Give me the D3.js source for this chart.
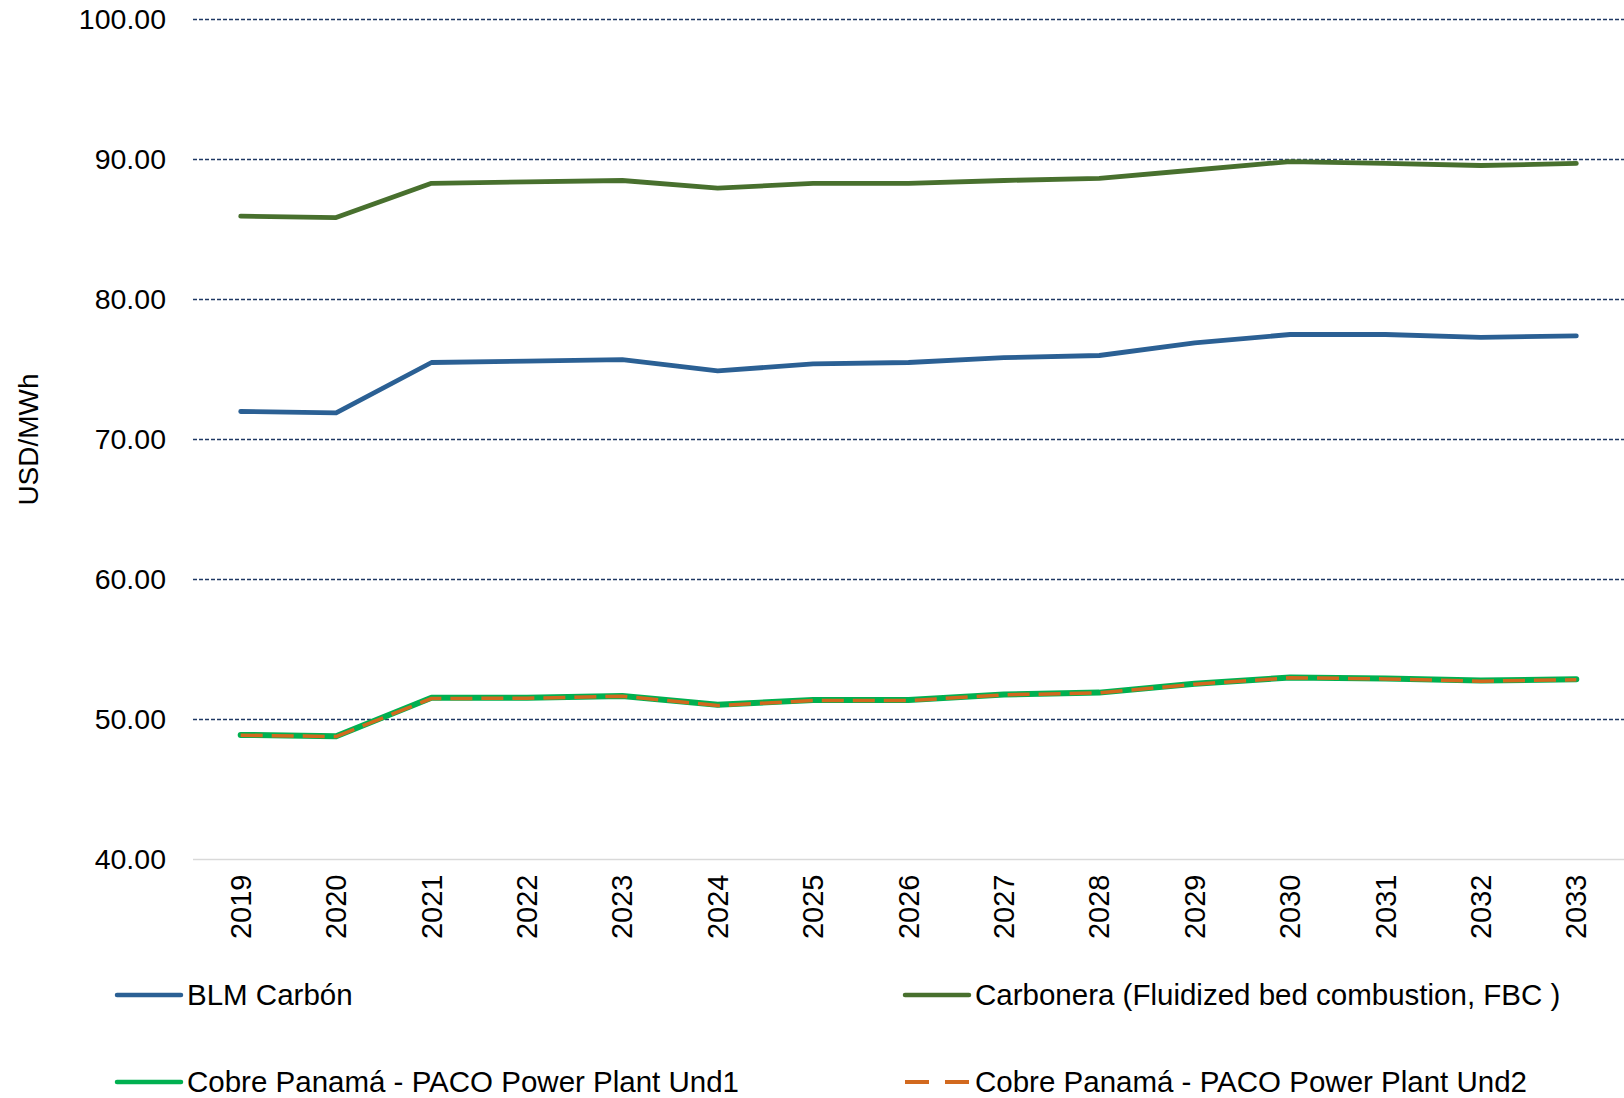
<!DOCTYPE html>
<html>
<head>
<meta charset="utf-8">
<script src="https://cdn.jsdelivr.net/npm/d3@7"></script>
<style>
  body { margin: 0; background: #fff; }
  text { font-family: "Liberation Sans", Arial, sans-serif; fill: #000; }
</style>
</head>
<body>
<div id="chart"></div>
<script>
// chart data
const years = ["2019","2020","2021","2022","2023","2024","2025","2026","2027","2028","2029","2030","2031","2032","2033"];
const blmCarbon = [72.0, 71.9, 75.5, 75.6, 75.7, 74.9, 75.4, 75.5, 75.85, 76.0, 76.9, 77.5, 77.5, 77.3, 77.4];
const carbonera = [85.95, 85.85, 88.3, 88.4, 88.5, 87.95, 88.3, 88.3, 88.5, 88.65, 89.25, 89.85, 89.72, 89.57, 89.72];
const pacoUnd1 = [48.9, 48.8, 51.55, 51.55, 51.68, 51.05, 51.4, 51.4, 51.78, 51.92, 52.55, 53.0, 52.92, 52.78, 52.88];
const pacoUnd2 = [48.88, 48.78, 51.5, 51.52, 51.66, 51.0, 51.35, 51.35, 51.76, 51.9, 52.52, 52.98, 52.9, 52.74, 52.84];
const yTicks = [40, 50, 60, 70, 80, 90, 100];

const series = [
  { name: "BLM Carbón", values: blmCarbon, color: "#2B6094", width: 4.8, dash: null },
  { name: "Carbonera (Fluidized bed combustion, FBC )", values: carbonera, color: "#48702E", width: 4.8, dash: null },
  { name: "Cobre Panamá - PACO Power Plant Und1", values: pacoUnd1, color: "#00B050", width: 6, dash: null },
  { name: "Cobre Panamá - PACO Power Plant Und2", values: pacoUnd2, color: "#D2691E", width: 3.5, dash: "22,9" }
];

let width = 1624, height = 1098;
let margin = { top: 19.5, right: 0, bottom: 238.5, left: 193 };

let svg = d3.select("#chart").append("svg")
    .attr("width", width)
    .attr("height", height);

let x = d3.scaleBand()
    .domain(years)
    .range([margin.left, width - margin.right]);

let y = d3.scaleLinear()
    .domain([40, 100])
    .range([height - margin.bottom, margin.top]);

// gridlines
svg.append("g")
    .selectAll("line")
    .data(yTicks.filter(d => d > 40))
    .enter().append("line")
    .attr("x1", margin.left)
    .attr("x2", width - margin.right)
    .attr("y1", d => y(d))
    .attr("y2", d => y(d))
    .attr("stroke", "#1F3864")
    .attr("stroke-width", 1.5)
    .attr("stroke-dasharray", "4,2");

// bottom axis line
svg.append("line")
    .attr("x1", margin.left)
    .attr("x2", width - margin.right)
    .attr("y1", y(40))
    .attr("y2", y(40))
    .attr("stroke", "#D9D9D9")
    .attr("stroke-width", 1.5);

// y tick labels
svg.append("g")
    .selectAll("text")
    .data(yTicks)
    .enter().append("text")
    .attr("x", 166)
    .attr("y", d => y(d))
    .attr("dy", "0.35em")
    .attr("text-anchor", "end")
    .style("font-size", "28.5px")
    .text(d => d3.format(".2f")(d));

// x tick labels (rotated)
svg.append("g")
    .selectAll("text")
    .data(years)
    .enter().append("text")
    .attr("transform", d => "translate(" + (x(d) + x.bandwidth() / 2) + "," + (y(40) + 15) + ") rotate(-90)")
    .attr("text-anchor", "end")
    .attr("dy", "0.35em")
    .style("font-size", "29px")
    .text(d => d);

// y axis title
svg.append("text")
    .attr("transform", "translate(28," + (y(70)) + ") rotate(-90)")
    .attr("text-anchor", "middle")
    .attr("dy", "0.35em")
    .style("font-size", "28px")
    .text("USD/MWh");

let line = d3.line()
    .x((d, i) => x(years[i]) + x.bandwidth() / 2)
    .y(d => y(d));

series.forEach(s => {
    svg.append("path")
        .datum(s.values)
        .attr("fill", "none")
        .attr("stroke", s.color)
        .attr("stroke-width", s.width)
        .attr("stroke-linecap", s.dash ? "butt" : "round")
        .attr("stroke-linejoin", "round")
        .attr("stroke-dasharray", s.dash)
        .attr("d", line);
});

// legend
let legendPos = [
    { lx: 117, ly: 995 },
    { lx: 905, ly: 995 },
    { lx: 117, ly: 1082 },
    { lx: 905, ly: 1082 }
];

series.forEach((s, i) => {
    let p = legendPos[i];
    let g = svg.append("g").attr("transform", "translate(" + p.lx + "," + p.ly + ")");
    g.append("line")
        .attr("x1", 0)
        .attr("x2", 64)
        .attr("y1", 0)
        .attr("y2", 0)
        .attr("stroke", s.color)
        .attr("stroke-width", s.dash ? 4 : 4.5)
        .attr("stroke-linecap", s.dash ? "butt" : "round")
        .attr("stroke-dasharray", s.dash ? "24,16" : null);
    g.append("text")
        .attr("x", 70)
        .attr("dy", "0.35em")
        .style("font-size", "29.5px")
        .text(s.name);
});
</script>
</body>
</html>
